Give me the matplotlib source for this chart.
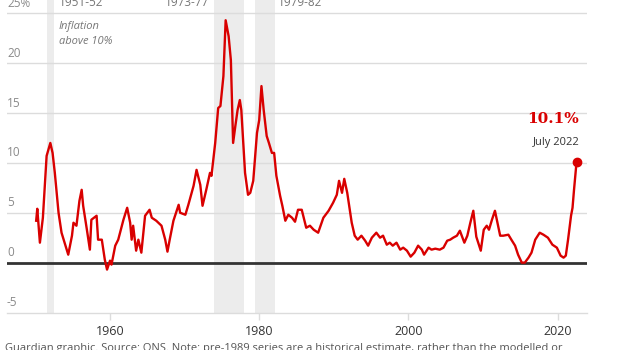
import matplotlib
matplotlib.use("Agg")
import matplotlib.pyplot as plt

# UK annual inflation rate (%), sampled through time
years = [1950.1, 1950.25, 1950.6, 1951.0, 1951.5, 1952.0, 1952.3, 1952.6, 1953.1, 1953.5,
         1954.2, 1954.4, 1954.9, 1955.1, 1955.5, 1955.9, 1956.2, 1956.4, 1956.9, 1957.3,
         1957.5, 1958.2, 1958.4, 1958.9, 1959.3, 1959.6, 1960.0, 1960.2, 1960.7, 1961.1,
         1961.8, 1962.3, 1962.7, 1962.9, 1963.1, 1963.5, 1963.8, 1964.2, 1964.7, 1965.3,
         1965.6, 1966.2, 1966.9, 1967.4, 1967.7, 1968.0, 1968.5, 1969.2, 1969.4, 1970.1,
         1970.5, 1971.2, 1971.6, 1972.1, 1972.4, 1972.9, 1973.4, 1973.6, 1974.1, 1974.5,
         1974.8, 1975.2, 1975.5, 1975.9, 1976.2, 1976.5, 1976.8, 1977.1, 1977.4, 1977.6,
         1978.1, 1978.5, 1978.8, 1979.2, 1979.7, 1980.0, 1980.3, 1980.6, 1981.0, 1981.3,
         1981.7, 1982.0, 1982.3, 1982.8, 1983.1, 1983.5, 1983.9, 1984.4, 1984.8, 1985.2,
         1985.7, 1986.3, 1986.8, 1987.3, 1987.9, 1988.6, 1989.3, 1989.9, 1990.4, 1990.7,
         1991.1, 1991.4, 1991.8, 1992.4, 1992.8, 1993.2, 1993.7, 1994.2, 1994.6, 1995.1,
         1995.7, 1996.2, 1996.6, 1997.1, 1997.5, 1997.9, 1998.4, 1998.9, 1999.3, 1999.8,
         2000.3, 2000.8, 2001.3, 2001.8, 2002.1, 2002.7, 2003.1, 2003.6, 2004.2, 2004.7,
         2005.2, 2005.6, 2006.0, 2006.5, 2006.9, 2007.5, 2007.9, 2008.3, 2008.7, 2009.1,
         2009.7, 2010.1, 2010.5, 2010.8, 2011.2, 2011.6, 2011.8, 2012.3, 2012.7, 2013.4,
         2013.8, 2014.3, 2014.7, 2015.2, 2015.6, 2016.1, 2016.5, 2017.0, 2017.6, 2018.1,
         2018.7, 2019.3, 2019.9, 2020.4, 2020.8, 2021.1, 2021.4, 2021.8, 2022.0, 2022.2,
         2022.54]
rates = [4.2, 5.4, 2.0, 4.5, 10.7, 12.0, 11.0, 9.0, 5.0, 3.0,
         1.3, 0.8, 2.7, 4.0, 3.7, 6.2, 7.3, 5.7, 3.3, 1.3,
         4.3, 4.7, 2.3, 2.3, 0.3, -0.7, 0.2, -0.2, 1.7, 2.3,
         4.3, 5.5, 4.0, 2.3, 3.7, 1.2, 2.3, 1.0, 4.7, 5.3,
         4.5, 4.2, 3.7, 2.3, 1.1, 2.3, 4.2, 5.8, 5.0, 4.8,
         5.8, 7.7, 9.3, 7.8, 5.7, 7.3, 9.0, 8.7, 12.0, 15.5,
         15.7, 18.7, 24.3, 22.7, 20.3, 12.0, 13.7, 15.3, 16.3, 15.3,
         9.0, 6.8, 7.0, 8.2, 13.0, 14.3, 17.7, 15.3, 12.7, 12.0,
         11.0, 11.0, 8.7, 6.7, 5.7, 4.2, 4.8, 4.5, 4.1, 5.3,
         5.3, 3.5, 3.7, 3.3, 3.0, 4.5, 5.2, 6.0, 6.8, 8.2,
         7.0, 8.4, 7.0, 4.0, 2.7, 2.3, 2.7, 2.2, 1.7, 2.5,
         3.0, 2.5, 2.7, 1.8, 2.0, 1.7, 2.0, 1.3, 1.5, 1.2,
         0.6, 1.0, 1.7, 1.3, 0.8, 1.5, 1.3, 1.4, 1.3, 1.5,
         2.2, 2.3, 2.5, 2.7, 3.2, 2.0, 2.7, 4.0, 5.2, 2.6,
         1.2, 3.3, 3.7, 3.3, 4.3, 5.2, 4.5, 2.7, 2.7, 2.8,
         2.3, 1.7, 0.8, 0.0, 0.0, 0.5, 1.0, 2.3, 3.0, 2.8,
         2.5, 1.8, 1.5, 0.7, 0.5, 0.7, 2.3, 4.7, 5.5, 7.3,
         10.1]

# Periods when inflation ran above 10%
periods = ["1951-52", "1973-77", "1979-82"]
period_start = [1951.55, 1973.9, 1979.4]
period_end = [1952.5, 1978.0, 1982.1]

y_ticks = [-5, 0, 5, 10, 15, 20, 25]
y_labels = ["-5", "0", "5", "10", "15", "20", "25%"]
x_ticks = [1960, 1980, 2000, 2020]

RED = "#d90000"
SANS = ["Open Sans", "DejaVu Sans"]

fig = plt.figure(figsize=(6.2, 3.5), dpi=100)
ax = fig.add_axes([7 / 620, (350 - 312.5) / 350, 580 / 620, 312.5 / 350])
ax.set_xlim(1946.19, 2023.94)
ax.set_ylim(-5, 26.33)

for s, e in zip(period_start, period_end):
    ax.axvspan(s, e, color="#ececec", lw=0, zorder=0)

for v in y_ticks:
    if v == 0:
        ax.axhline(v, color="#333333", lw=2.0, zorder=3)
    elif v != -5:
        ax.axhline(v, color="#dcdcdc", lw=1.0, zorder=1)

for v, lab in zip(y_ticks, y_labels):
    ax.annotate(lab, xy=(0, v), xycoords=("axes fraction", "data"),
                xytext=(0, 2.5), textcoords="offset points",
                ha="left", va="bottom", fontsize=8.5, color="#8a8a8a",
                family=SANS)

ax.plot(years, rates, color=RED, lw=1.7, zorder=4, solid_joinstyle="round")
ax.plot([years[-1]], [rates[-1]], "o", color=RED, ms=6, zorder=5)

for sp in ["top", "right", "left"]:
    ax.spines[sp].set_visible(False)
ax.spines["bottom"].set_color("#dcdcdc")
ax.spines["bottom"].set_linewidth(1.0)
ax.set_yticks([])
ax.set_xticks(x_ticks)
ax.set_xticklabels([str(t) for t in x_ticks], fontsize=9, color="#333333",
                   family=SANS)
ax.tick_params(axis="x", length=5, width=1, color="#dcdcdc", pad=4)

# Period labels along the top
ax.text(period_end[0] + 0.6, 26.05, periods[0], ha="left", va="center",
        fontsize=8.5, color="#777777", family=SANS)
ax.text(period_start[1] - 0.6, 26.05, periods[1], ha="right", va="center",
        fontsize=8.5, color="#777777", family=SANS)
ax.text(period_end[2] + 0.4, 26.05, periods[2], ha="left", va="center",
        fontsize=8.5, color="#777777", family=SANS)
ax.text(period_end[0] + 0.6, 24.2, "Inflation\nabove 10%", ha="left", va="top",
        fontsize=8, color="#777777", style="italic", family=SANS,
        linespacing=1.5)

# Latest value callout
ax.annotate(f"{rates[-1]:.1f}%", xy=(years[-1], rates[-1]),
            xytext=(2, 31), textcoords="offset points", ha="right",
            va="center", fontsize=11, fontweight="bold", color=RED,
            family=["DejaVu Serif"])
ax.annotate("July 2022", xy=(years[-1], rates[-1]),
            xytext=(2, 14), textcoords="offset points", ha="right",
            va="center", fontsize=8, color="#333333", family=SANS)

fig.text(5 / 620, 2 / 350,
         "Guardian graphic. Source: ONS. Note: pre-1989 series are a historical "
         "estimate, rather than the modelled or",
         ha="left", va="center", fontsize=8, color="#555555", family=SANS)

fig.savefig("out.png", dpi=100)
